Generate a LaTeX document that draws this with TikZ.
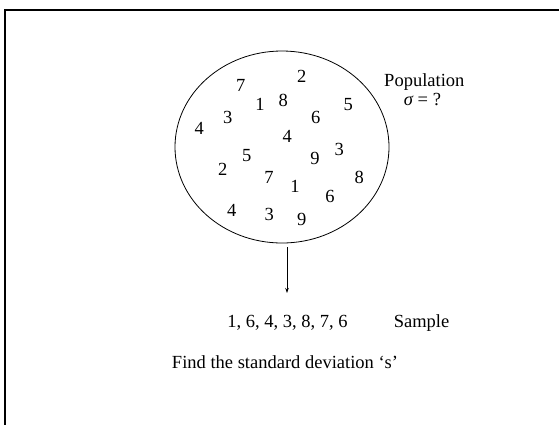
\documentclass[tikz,border=0pt]{standalone}
\usepackage{fontspec}
\setmainfont{Liberation Serif}
\usetikzlibrary{shapes.geometric,arrows.meta}
\begin{document}
\begin{tikzpicture}[x=1pt,y=1pt,
  txt/.style={inner sep=0pt,anchor=base,font=\fontsize{18.5}{21}\selectfont},
  dig/.style={txt}]
\useasboundingbox (0,0) rectangle (559,-424);
\begin{scope}
\clip (0,0) rectangle (559,-424);
\draw[line width=2pt] (5,-430) -- (5,-10) -- (570,-10);
\end{scope}
\node[draw,ellipse,line width=0.8pt,minimum width=214pt,minimum height=192pt,inner sep=0pt] (pop) at (282,-147) {};
% numbers
\node[dig] (n1) at (240.7,-91) {7};
\node[dig] (n2) at (301.7,-82) {2};
\node[dig] (n3) at (260,-110.3) {1};
\node[dig] (n4) at (283.3,-106) {8};
\node[dig] (n5) at (348.3,-110) {5};
\node[dig] (n6) at (227.7,-123.3) {3};
\node[dig] (n7) at (199.3,-134.3) {4};
\node[dig] (n8) at (315.7,-123.3) {6};
\node[dig] (n9) at (287.3,-142.7) {4};
\node[dig] (n10) at (246.7,-161.7) {5};
\node[dig] (n11) at (315,-164.3) {9};
\node[dig] (n12) at (339.3,-155.3) {3};
\node[dig] (n13) at (222.7,-175) {2};
\node[dig] (n14) at (269,-183.7) {7};
\node[dig] (n15) at (295,-192.7) {1};
\node[dig] (n16) at (359.3,-183.7) {8};
\node[dig] (n17) at (330,-202) {6};
\node[dig] (n18) at (231.7,-216.7) {4};
\node[dig] (n19) at (269.3,-220.3) {3};
\node[dig] (n20) at (301.7,-225.3) {9};
% labels
\node[txt] (poplab) at (424.3,-86.7) {Population};
\node[txt] (sig) at (422.5,-105) {{\itshape σ} = ?};
\node[txt] (samp) at (287.5,-327) {1, 6, 4, 3, 8, 7, 6};
\node[txt] (samplab) at (421.5,-327) {Sample};
\node[txt] (find) at (285,-368) {Find the standard deviation ‘s’};
\coordinate (a1) at (287,-247);
\coordinate (a2) at (287,-293);
\draw[line width=0.8pt,-{Stealth[length=5pt,width=3.5pt]}] (a1) -- (a2);
\end{tikzpicture}
\end{document}
